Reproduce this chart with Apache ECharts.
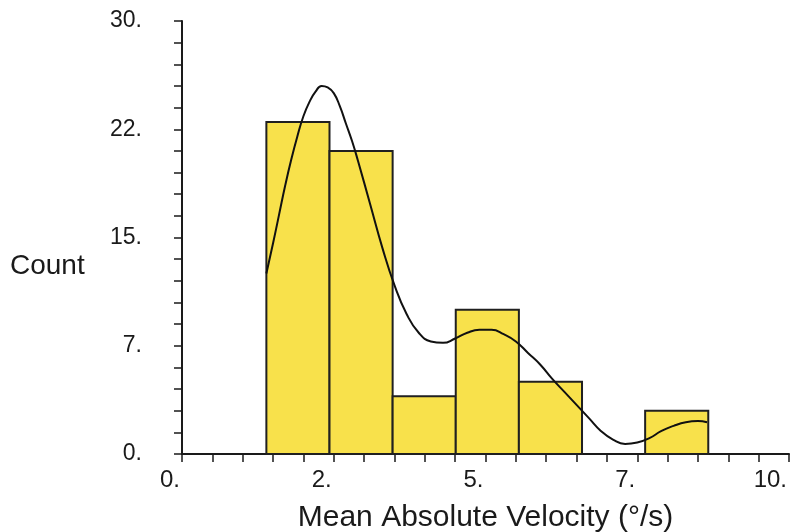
<!DOCTYPE html>
<html>
<head>
<meta charset="utf-8">
<script src="https://cdn.jsdelivr.net/npm/echarts@6/dist/echarts.min.js"></script>
<style>
  html, body { margin: 0; padding: 0; background: #ffffff; }
  #chart { width: 793px; height: 532px; }
</style>
</head>
<body>
<div id="chart"></div>
<script>
// Histogram bins (left edges plus the final right edge) and counts per bin
const binEdges = [1.39, 2.43, 3.47, 4.51, 5.55, 6.59, 7.63, 8.67];
const binCounts = [23, 21, 4, 10, 5, 0, 3];

// Smoothed density curve, scaled to counts
const curveX = [1.39, 1.5, 1.6, 1.7, 1.8, 1.9, 2.0, 2.1, 2.2, 2.3, 2.4, 2.5, 2.6, 2.7, 2.8, 2.9, 3.1, 3.3, 3.5, 3.7, 3.9, 4.1, 4.3, 4.5, 4.7, 4.9, 5.1, 5.3, 5.5, 5.7, 5.9, 6.1, 6.3, 6.5, 6.7, 6.9, 7.1, 7.3, 7.5, 7.7, 7.9, 8.1, 8.3, 8.5, 8.65];
const curveY = [12.5, 14.6, 16.6, 18.6, 20.4, 22.0, 23.4, 24.4, 25.1, 25.5, 25.4, 25.0, 24.1, 22.9, 21.7, 20.3, 17.3, 14.3, 11.7, 9.7, 8.4, 7.8, 7.7, 8.0, 8.4, 8.6, 8.6, 8.3, 7.8, 7.0, 6.2, 5.2, 4.3, 3.4, 2.5, 1.6, 1.0, 0.7, 0.8, 1.1, 1.6, 1.95, 2.2, 2.28, 2.2];

// Tick labels (truncated to integer part, as printed on the axes)
const xTickValues = [0, 2.5, 5, 7.5, 10];
const xTickLabels = ['0.', '2.', '5.', '7.', '10.'];
const yTickValues = [0, 7.5, 15, 22.5, 30];
const yTickLabels = ['0.', '7.', '15.', '22.', '30.'];

const xTitle = 'Mean Absolute Velocity (°/s)';
const yTitle = 'Count';

function labelFor(values, labels) {
  return function (v) {
    for (let i = 0; i < values.length; i++) {
      if (Math.abs(values[i] - v) < 1e-6) return labels[i];
    }
    return '';
  };
}

const barData = binCounts.map((c, i) => [binEdges[i], binEdges[i + 1], c]);
const curveData = curveX.map((x, i) => [x, curveY[i]]);

const FONT = '"Liberation Sans", Arial, Helvetica, sans-serif';
const INK = '#1a1a1a';

const chart = echarts.init(document.getElementById('chart'), null, { renderer: 'canvas' });
chart.setOption({
  animation: false,
  backgroundColor: '#ffffff',
  grid: { left: 182, right: 4, top: 21, bottom: 78, containLabel: false, outerBoundsMode: 'none' },
  xAxis: {
    type: 'value',
    min: 0, max: 10, interval: 0.5,
    name: xTitle,
    nameLocation: 'middle',
    nameGap: 49,
    nameTextStyle: { fontFamily: FONT, fontSize: 30, color: INK },
    axisLine: { show: true, onZero: false, lineStyle: { color: INK, width: 2 } },
    axisTick: { show: true, inside: false, length: 8, lineStyle: { color: INK, width: 1.5 } },
    axisLabel: {
      show: true, margin: 14, align: 'right', padding: [0, 2, 0, 0],
      fontFamily: FONT, fontSize: 24, color: INK,
      formatter: labelFor(xTickValues, xTickLabels)
    },
    splitLine: { show: false }
  },
  yAxis: {
    type: 'value',
    min: 0, max: 30, interval: 1.5,
    axisLine: { show: true, onZero: false, lineStyle: { color: INK, width: 2 } },
    axisTick: { show: true, inside: false, length: 8, lineStyle: { color: INK, width: 1.5 } },
    axisLabel: {
      show: true, margin: 40,
      fontFamily: FONT, fontSize: 23, color: INK,
      formatter: labelFor(yTickValues, yTickLabels)
    },
    splitLine: { show: false }
  },
  graphic: [{
    type: 'text',
    left: 10, top: 252,
    style: { text: yTitle, fontFamily: FONT, fontSize: 28, fill: INK }
  }],
  series: [
    {
      type: 'custom',
      data: barData,
      encode: { x: [0, 1], y: 2 },
      renderItem: function (params, api) {
        const count = api.value(2);
        if (!count) return null;
        const p0 = api.coord([api.value(0), count]);
        const p1 = api.coord([api.value(1), 0]);
        return {
          type: 'rect',
          shape: { x: p0[0], y: p0[1], width: p1[0] - p0[0], height: p1[1] - p0[1] },
          style: { fill: '#F8E14B', stroke: '#202020', lineWidth: 2 }
        };
      },
      z: 2
    },
    {
      type: 'line',
      data: curveData,
      smooth: 0.5,
      showSymbol: false,
      lineStyle: { color: '#111111', width: 2 },
      z: 3
    }
  ]
});
</script>
</body>
</html>
